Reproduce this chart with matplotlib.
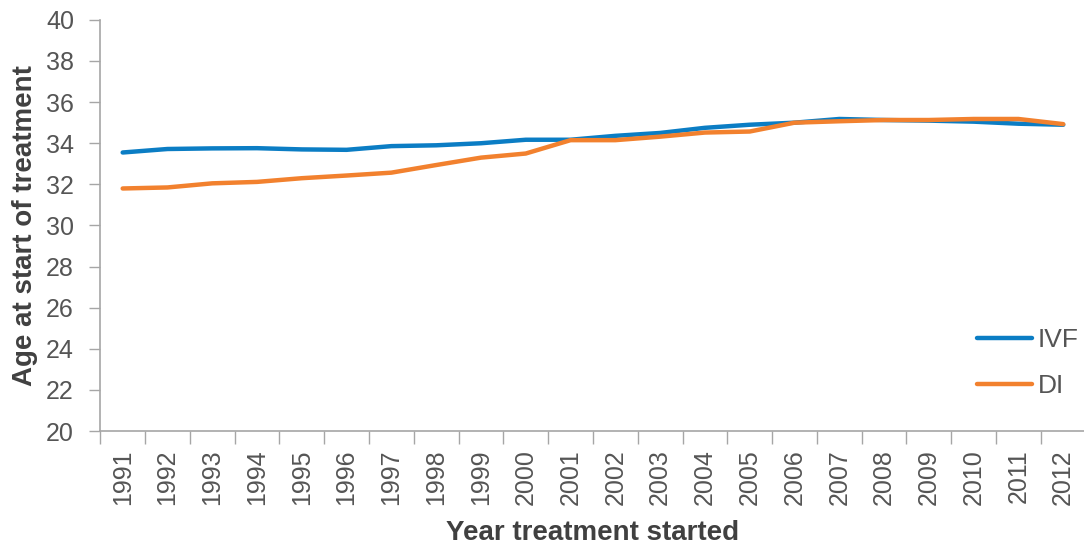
import numpy as np
import matplotlib
matplotlib.use('Agg')
import matplotlib.pyplot as plt

plt.rcParams['font.family'] = ['Liberation Sans', 'DejaVu Sans']

years = [str(y) for y in range(1991, 2013)]
ivf = [33.55, 33.72, 33.75, 33.76, 33.7, 33.68, 33.86, 33.9, 34.0, 34.17, 34.17,
       34.36, 34.5, 34.75, 34.9, 35.0, 35.18, 35.13, 35.1, 35.05, 34.95, 34.9]
di = [31.8, 31.85, 32.05, 32.12, 32.3, 32.43, 32.57, 32.94, 33.3, 33.5, 34.15,
      34.15, 34.32, 34.52, 34.57, 35.0, 35.07, 35.13, 35.13, 35.18, 35.18, 34.93]

blue = '#0B7DC4'
orange = '#F2812E'
grey = '#A6A6A6'
text_col = '#404040'
tick_col = '#555555'

fig = plt.figure(figsize=(10.84, 5.52), dpi=100)
ax = fig.add_axes([0.0925, 0.219, 0.909, 0.745])

x = np.arange(len(years))
ax.plot(x, ivf, color=blue, linewidth=3.2, label='IVF', solid_capstyle='round')
ax.plot(x, di, color=orange, linewidth=3.2, label='DI', solid_capstyle='round')

ax.set_xlim(-0.5, len(years) - 0.5)
ax.set_ylim(20, 40)
ax.set_yticks(np.arange(20, 41, 2))
ax.set_xticks(x)
ax.set_xticklabels(years, rotation=90)
ax.set_xticks(np.arange(-0.5, len(years) - 0.5, 1), minor=True)
ax.tick_params(axis='x', which='major', length=0, pad=13, labelsize=18, labelcolor=tick_col)
ax.tick_params(axis='x', which='minor', length=9, width=1, color=grey, direction='out')
ax.tick_params(axis='y', length=8, width=1, color=grey, direction='out', labelsize=18,
               labelcolor=tick_col, pad=11)

for s in ['top', 'right']:
    ax.spines[s].set_visible(False)
for s in ['left', 'bottom']:
    ax.spines[s].set_color(grey)
    ax.spines[s].set_linewidth(1.2)

ax.set_ylabel('Age at start of treatment', fontsize=20, fontweight='bold', color=text_col)
ax.set_xlabel('Year treatment started', fontsize=20, fontweight='bold', color=text_col)
ax.yaxis.set_label_coords(-0.063, 0.5)
ax.xaxis.set_label_coords(0.5, -0.215)

leg = ax.legend(loc='center left', bbox_to_anchor=(977 / 1084, 1 - 363 / 552),
                bbox_transform=fig.transFigure, frameon=False, fontsize=19,
                borderpad=0, borderaxespad=0,
                handlelength=2.1, handletextpad=0.2, labelspacing=0.85)
for t in leg.get_texts():
    t.set_color(tick_col)

fig.savefig('out.png', dpi=100)
